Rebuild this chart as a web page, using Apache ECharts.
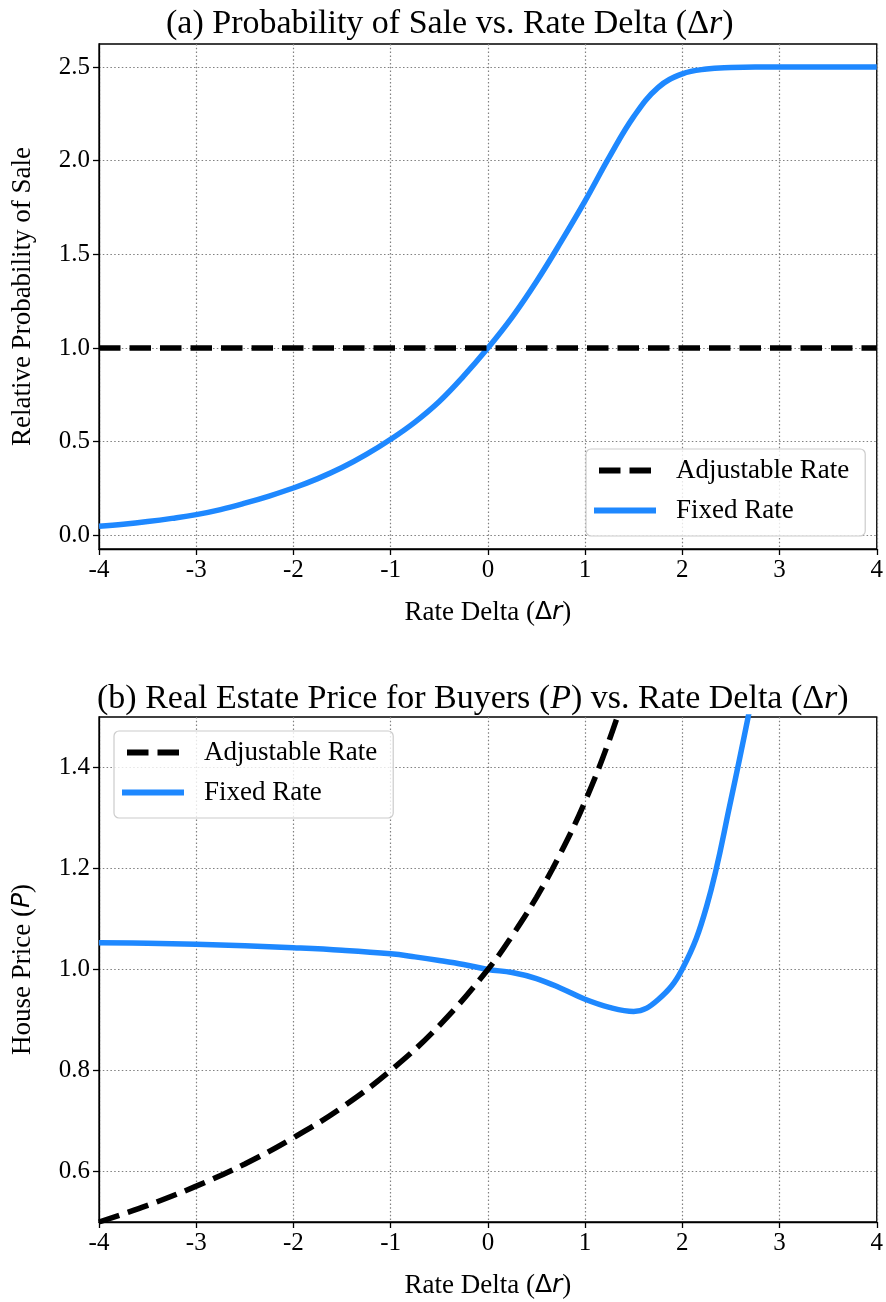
<!DOCTYPE html>
<html>
<head>
<meta charset="utf-8">
<script src="https://cdn.jsdelivr.net/npm/echarts@6/dist/echarts.min.js"></script>
<style>
html,body{margin:0;padding:0;background:#fff;}
#chart{width:886px;height:1302px;}
</style>
</head>
<body>
<div id="chart"></div>
<script>
// ---------- data ----------
var xTicks = [-4, -3, -2, -1, 0, 1, 2, 3, 4];
var yTicksA = [0, 0.5, 1.0, 1.5, 2.0, 2.5];
var yTicksB = [0.6, 0.8, 1.0, 1.2, 1.4];

// (a) Relative probability of sale
var xAdjA = [-4, 4];
var yAdjA = [1.0, 1.0];
var xFixA = [-4, -3.75, -3.5, -3.25, -3, -2.75, -2.5, -2.25, -2, -1.75, -1.5, -1.25, -1, -0.75, -0.5, -0.25, 0,
             0.25, 0.5, 0.75, 1.0, 1.25, 1.5, 1.75, 2.0, 2.25, 2.5, 2.75, 3.0, 3.5, 4.0];
var yFixA = [0.049, 0.060, 0.074, 0.091, 0.111, 0.138, 0.172, 0.210, 0.253, 0.303, 0.362, 0.432, 0.513, 0.605, 0.715, 0.850, 1.0,
             1.165, 1.355, 1.565, 1.785, 2.020, 2.235, 2.390, 2.463, 2.489, 2.497, 2.500, 2.500, 2.500, 2.500];

// (b) House price
var xAdjB = [-4, -3.5, -3, -2.5, -2, -1.5, -1, -0.5, 0, 0.25, 0.5, 0.75, 1.0, 1.25, 1.5];
var yAdjB = [0.500, 0.533, 0.571, 0.615, 0.667, 0.727, 0.800, 0.889, 1.000, 1.067, 1.143, 1.231, 1.333, 1.455, 1.600];
var xFixB = [-4, -3.5, -3, -2.5, -2, -1.5, -1, -0.75, -0.5, -0.25, 0,
             0.25, 0.5, 0.75, 1.0, 1.25, 1.5, 1.75, 2.0, 2.25, 2.5, 2.75];
var yFixB = [1.053, 1.052, 1.050, 1.047, 1.043, 1.038, 1.031, 1.025, 1.018, 1.010, 1.000,
             0.994, 0.982, 0.963, 0.941, 0.925, 0.917, 0.940, 1.001, 1.125, 1.336, 1.570];

function pairs(xs, ys) { return xs.map(function (x, i) { return [x, ys[i]]; }); }

// ---------- style ----------
var SERIF = '"Liberation Serif", "Times New Roman", serif';
var SANS = '"DejaVu Sans", sans-serif';
var BLUE = '#1E88FF';
var tickFont = 25, labelFont = 27, legendFont = 27, titleFont = 34;

function xAxisOpt(gridIndex) {
  return {
    type: 'value', gridIndex: gridIndex, min: -4, max: 4, interval: 1,
    axisLine: { show: true, onZero: false, lineStyle: { color: '#000', width: 1.3 } },
    axisTick: { show: true, length: 6, lineStyle: { color: '#000', width: 1.3 } },
    axisLabel: { fontFamily: SERIF, fontSize: tickFont, color: '#000', margin: 9 },
    splitLine: { show: true, lineStyle: { color: '#808080', width: 1.2, type: [1.5, 2.3] } },
    name: '{a|Rate Delta (}{b|Δ}{c|r}{a|)}',
    nameLocation: 'middle', nameGap: 50,
    nameTextStyle: {
      rich: {
        a: { fontFamily: SERIF, fontSize: labelFont, color: '#000' },
        b: { fontFamily: SANS, fontSize: labelFont - 2, color: '#000' },
        c: { fontFamily: SANS, fontStyle: 'italic', fontSize: labelFont - 2, color: '#000' }
      }
    }
  };
}

function yAxisOpt(gridIndex, min, max, ticks, name, gap) {
  return {
    type: 'value', gridIndex: gridIndex, min: min, max: max, splitNumber: 5,
    axisLine: { show: true, onZero: false, lineStyle: { color: '#000', width: 1.3 } },
    axisTick: { show: true, length: 6, customValues: ticks, lineStyle: { color: '#000', width: 1.3 } },
    axisLabel: { customValues: ticks, fontFamily: SERIF, fontSize: tickFont, color: '#000', margin: 9,
                 formatter: function (v) { return (+v).toFixed(1); } },
    splitLine: { show: true, lineStyle: { color: '#808080', width: 1.2, type: [1.5, 2.3] } },
    name: name, nameLocation: 'middle', nameGap: gap, nameRotate: 90,
    nameTextStyle: {
      rich: {
        a: { fontFamily: SERIF, fontSize: labelFont, color: '#000' },
        c: { fontFamily: SANS, fontStyle: 'italic', fontSize: labelFont - 2, color: '#000' }
      }
    }
  };
}

var DASH_ICON = 'path://M0,0H21.5V6H0Z M30.5,0H52V6H30.5Z';

function legendOpt(left, top) {
  return {
    orient: 'vertical', left: left, top: top,
    data: [
      { name: 'Adjustable Rate', icon: DASH_ICON, itemStyle: { color: '#000' } },
      { name: 'Fixed Rate', icon: 'rect', itemStyle: { color: BLUE } }
    ],
    itemWidth: 62, itemHeight: 6, itemGap: 13, symbolKeepAspect: true,
    padding: [8, 16, 12, 8],
    backgroundColor: 'rgba(255,255,255,0.8)',
    borderColor: '#cccccc', borderWidth: 1.2, borderRadius: 5,
    textStyle: { fontFamily: SERIF, fontSize: legendFont, color: '#000', padding: [0, 0, 0, 15] }
  };
}

var option = {
  animation: false,
  backgroundColor: '#fff',
  title: [
    {
      text: '(a) Probability of Sale vs. Rate Delta (Δ{i|r})',
      left: 161, top: 2,
      textStyle: { fontFamily: SERIF, fontSize: titleFont, fontWeight: 'normal', color: '#000',
                   rich: { i: { fontFamily: SERIF, fontStyle: 'italic', fontSize: titleFont, color: '#000' } } }
    },
    {
      text: '(b) Real Estate Price for Buyers ({i|P}) vs. Rate Delta (Δ{i|r})',
      left: 92, top: 677,
      textStyle: { fontFamily: SERIF, fontSize: titleFont, fontWeight: 'normal', color: '#000',
                   rich: { i: { fontFamily: SERIF, fontStyle: 'italic', fontSize: titleFont, color: '#000' } } }
    }
  ],
  grid: [
    { left: 99, right: 7, top: 44, height: 505, show: true, borderColor: '#000', borderWidth: 1.3, backgroundColor: 'transparent' },
    { left: 99, right: 7, top: 717, height: 505, show: true, borderColor: '#000', borderWidth: 1.3, backgroundColor: 'transparent' }
  ],
  xAxis: [xAxisOpt(0), xAxisOpt(1)],
  yAxis: [
    yAxisOpt(0, -0.0725, 2.6225, yTicksA, '{a|Relative Probability of Sale}', 63),
    yAxisOpt(1, 0.5, 1.5, yTicksB, '{a|House Price (}{c|P}{a|)}', 63)
  ],
  legend: [
    Object.assign(legendOpt(586, 449), { id: 'la' }),
    Object.assign(legendOpt(114, 731), { id: 'lb' })
  ],
  series: [
    { name: 'Adjustable Rate', type: 'line', xAxisIndex: 0, yAxisIndex: 0, showSymbol: false, symbol: 'none',
      data: pairs(xAdjA, yAdjA), lineStyle: { color: '#000', width: 5.5, type: [21.5, 9] }, itemStyle: { color: '#000' }, z: 3 },
    { name: 'Fixed Rate', type: 'line', xAxisIndex: 0, yAxisIndex: 0, showSymbol: false, symbol: 'none',
      smooth: 0.4,
      data: pairs(xFixA, yFixA), lineStyle: { color: BLUE, width: 5.5 }, itemStyle: { color: BLUE }, z: 2 },
    { name: 'Adjustable Rate', type: 'line', xAxisIndex: 1, yAxisIndex: 1, showSymbol: false, symbol: 'none',
      smooth: 0.4,
      data: pairs(xAdjB, yAdjB), lineStyle: { color: '#000', width: 5.5, type: [21.5, 9] }, itemStyle: { color: '#000' }, z: 3 },
    { name: 'Fixed Rate', type: 'line', xAxisIndex: 1, yAxisIndex: 1, showSymbol: false, symbol: 'none',
      smooth: 0.4,
      data: pairs(xFixB, yFixB), lineStyle: { color: BLUE, width: 5.5 }, itemStyle: { color: BLUE }, z: 2 }
  ]
};

var chart = echarts.init(document.getElementById('chart'), null, { renderer: 'canvas' });
chart.setOption(option);
</script>
</body>
</html>
